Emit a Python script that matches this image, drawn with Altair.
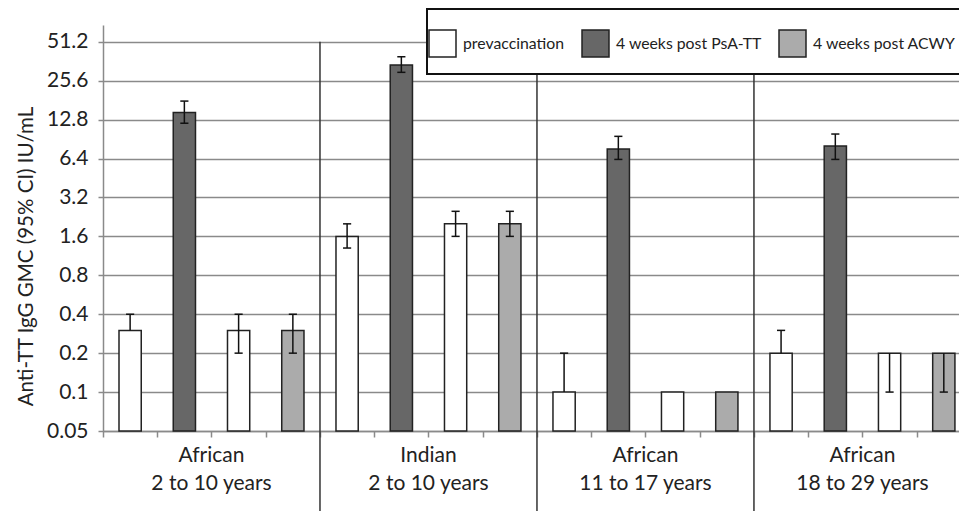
import altair as alt
import pandas as pd

# ---- data ----
group_names = ["African", "Indian", "African", "African"]
group_ages = ["2 to 10 years", "2 to 10 years", "11 to 17 years", "18 to 29 years"]
bar_series = ["prevaccination", "4 weeks post PsA-TT", "prevaccination", "4 weeks post ACWY"]
legend_order = ["prevaccination", "4 weeks post PsA-TT", "4 weeks post ACWY"]

gmc = [
    [0.3, 14.5, 0.3, 0.3],
    [1.6, 33.8, 2.0, 2.0],
    [0.1, 7.6, 0.1, 0.1],
    [0.2, 8.0, 0.2, 0.2],
]
ci_low = [
    [0.3, 12.0, 0.2, 0.2],
    [1.3, 29.7, 1.6, 1.6],
    [0.1, 6.3, 0.1, 0.1],
    [0.2, 6.3, 0.1, 0.1],
]
ci_high = [
    [0.4, 17.8, 0.4, 0.4],
    [2.0, 39.2, 2.5, 2.5],
    [0.2, 9.5, 0.1, 0.1],
    [0.3, 9.9, 0.2, 0.2],
]
y_ticks = [0.05, 0.1, 0.2, 0.4, 0.8, 1.6, 3.2, 6.4, 12.8, 25.6, 51.2]
slot_ticks = list(range(17))
group_bounds = [4, 8, 12]

rows = []
for g in range(4):
    for b in range(4):
        rows.append(dict(g=g, b=b, series=bar_series[b], value=gmc[g][b],
                         lo=ci_low[g][b], hi=ci_high[g][b], base=y_ticks[0]))
df = pd.DataFrame(rows)
gdf = pd.DataFrame(dict(g=list(range(4)),
                        label=[f"{n}\n{a}" for n, a in zip(group_names, group_ages)]))
bdf = pd.DataFrame(dict(xb=group_bounds, top=[y_ticks[-1]] * 3))

W, H = 856, 406
FONT = "Lato"

xscale = alt.Scale(domain=[0, 15.78], nice=False, zero=False)
yscale = alt.Scale(type="log", base=2, domain=[0.05, 69], nice=False)

base = alt.Chart(df).transform_calculate(
    pos="datum.g*4 + datum.b + 0.5"
).transform_calculate(
    x0="datum.pos - 0.205", x1="datum.pos + 0.205",
    c0="datum.pos - 0.075", c1="datum.pos + 0.075"
)

bars = base.mark_bar(stroke="#222222", strokeWidth=1.5).encode(
    x=alt.X("x0:Q", scale=xscale,
            axis=alt.Axis(values=slot_ticks, labels=False, title=None, grid=False,
                          tickSize=6, tickColor="#8a8a8a", domainColor="#8a8a8a",
                          domainWidth=1.5, tickWidth=1.5)),
    x2="x1:Q",
    y=alt.Y("value:Q", scale=yscale,
            axis=alt.Axis(values=y_ticks, format="~g",
                          title="Anti-TT IgG GMC (95% CI) IU/mL",
                          titleFontSize=20.5, titleFontWeight="normal", titleColor="#222222",
                          titleX=-71, titleY=231, titleBaseline="alphabetic",
                          titleAlign="center",
                          labelFontSize=21, labelColor="#222222", labelPadding=10,
                          tickSize=5, tickColor="#8a8a8a", tickWidth=1.5,
                          domainColor="#8a8a8a", domainWidth=1.5,
                          grid=True, gridColor="#8a8a8a", gridWidth=1.5)),
    y2=alt.Y2("base:Q"),
    color=alt.Color("series:N",
                    scale=alt.Scale(domain=legend_order,
                                    range=["#ffffff", "#676767", "#ababab"]),
                    legend=alt.Legend(title=None, orient="none", direction="horizontal",
                                      legendX=325, legendY=4, padding=0,
                                      symbolType="square", symbolSize=729,
                                      symbolStrokeColor="#222222", symbolStrokeWidth=1.5,
                                      labelFontSize=15.8, labelColor="#222222",
                                      labelOffset=6, columnPadding=14,
                                      labelLimit=300)),
)

err = base.transform_filter("datum.hi > datum.lo").mark_rule(
    color="#111111", strokeWidth=1.5).encode(
    x="pos:Q", y="lo:Q", y2="hi:Q")

cap_hi = base.transform_filter("datum.hi > datum.value").mark_rule(
    color="#111111", strokeWidth=1.5).encode(
    x="c0:Q", x2="c1:Q", y="hi:Q")

cap_lo = base.transform_filter("datum.lo < datum.value").mark_rule(
    color="#111111", strokeWidth=1.5).encode(
    x="c0:Q", x2="c1:Q", y="lo:Q")

seps = alt.Chart(bdf).mark_rule(color="#333333", strokeWidth=1.5).encode(
    x=alt.X("xb:Q", scale=xscale),
    y=alt.Y("top:Q", scale=yscale),
    y2=alt.value(H + 90),
)

one = pd.DataFrame({"k": [0]})
legend_bg = alt.Chart(one).mark_rect(fill="white", strokeWidth=0).encode(
    x=alt.value(324), x2=alt.value(920), y=alt.value(-16), y2=alt.value(49))
box_top = alt.Chart(one).mark_rule(color="#111111", strokeWidth=2).encode(
    x=alt.value(324), x2=alt.value(920), y=alt.value(-16))
box_bottom = alt.Chart(one).mark_rule(color="#111111", strokeWidth=2).encode(
    x=alt.value(324), x2=alt.value(920), y=alt.value(49))
box_left = alt.Chart(one).mark_rule(color="#111111", strokeWidth=2).encode(
    x=alt.value(324), y=alt.value(-17), y2=alt.value(50))

labels = alt.Chart(gdf).transform_calculate(
    cx="datum.g*4 + 2"
).mark_text(lineBreak="\n", baseline="top", fontSize=21, color="#222222",
            lineHeight=28, font=FONT).encode(
    x=alt.X("cx:Q", scale=xscale),
    y=alt.value(H + 14),
    text="label:N",
)

chart = alt.layer(bars, err, cap_hi, cap_lo, seps, legend_bg, box_top, box_bottom,
                  box_left, labels).properties(
    width=W, height=H,
    autosize=alt.AutoSizeParams(type="none"),
    padding={"left": 95, "top": 17, "right": 0, "bottom": 80},
).configure(font=FONT).configure_view(stroke=None)

chart.save("out.html", embed_options={"renderer": "svg", "actions": False})
